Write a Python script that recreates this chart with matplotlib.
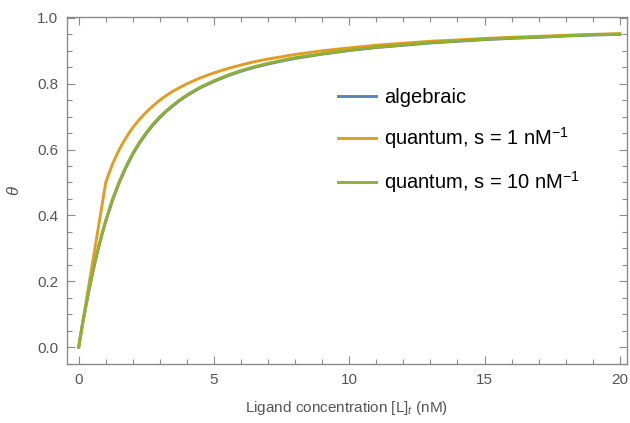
import numpy as np
import matplotlib
matplotlib.use("Agg")
import matplotlib.pyplot as plt
from matplotlib.ticker import MultipleLocator, FormatStrFormatter

plt.rcParams['font.family'] = ['Liberation Sans', 'DejaVu Sans']
plt.rcParams['mathtext.fontset'] = 'custom'
plt.rcParams['mathtext.rm'] = 'Liberation Sans'
plt.rcParams['mathtext.it'] = 'Liberation Sans:italic'

# ligand concentration (nM) and fraction bound
L_alg = [0, 0.125, 0.25, 0.375, 0.5, 0.625, 0.75, 0.875, 1, 1.25, 1.5, 1.75, 2, 2.25, 2.5,
         2.75, 3, 3.25, 3.5, 3.75, 4, 4.5, 5, 5.5, 6, 6.5, 7, 7.5, 8, 9, 10, 11, 12, 13, 14,
         15, 16, 17, 18, 19, 20]
theta_alg = [0, 0.061, 0.117, 0.170, 0.219, 0.265, 0.307, 0.346, 0.382, 0.446, 0.500, 0.546,
             0.586, 0.620, 0.649, 0.675, 0.697, 0.717, 0.734, 0.750, 0.764, 0.788, 0.807,
             0.824, 0.838, 0.850, 0.860, 0.869, 0.877, 0.890, 0.901, 0.910, 0.917, 0.924,
             0.929, 0.934, 0.938, 0.941, 0.945, 0.948, 0.950]
theta_s10 = [0, 0.063, 0.120, 0.173, 0.222, 0.268, 0.310, 0.349, 0.385, 0.449, 0.503, 0.549,
             0.589, 0.623, 0.652, 0.678, 0.700, 0.719, 0.736, 0.752, 0.766, 0.790, 0.809,
             0.826, 0.840, 0.852, 0.862, 0.871, 0.879, 0.891, 0.902, 0.911, 0.918, 0.925,
             0.930, 0.935, 0.939, 0.942, 0.946, 0.949, 0.951]

L_s1 = [0, 1, 1.125, 1.25, 1.375, 1.5, 1.625, 1.75, 1.875, 2, 2.25, 2.5, 2.75, 3, 3.25, 3.5,
        3.75, 4, 4.5, 5, 5.5, 6, 6.5, 7, 7.5, 8, 9, 10, 11, 12, 13, 14, 15, 16, 17, 18, 19, 20]
theta_s1 = [0, 0.500, 0.529, 0.556, 0.579, 0.600, 0.619, 0.636, 0.652, 0.667, 0.692, 0.714,
            0.733, 0.750, 0.765, 0.778, 0.789, 0.800, 0.818, 0.833, 0.846, 0.857, 0.867,
            0.875, 0.882, 0.889, 0.900, 0.909, 0.917, 0.923, 0.929, 0.933, 0.9375, 0.941,
            0.944, 0.947, 0.950, 0.952]

labels = ['algebraic', 'quantum, s = 1 nM$^{-1}$', 'quantum, s = 10 nM$^{-1}$']
colors = ['#5E81B5', '#E19C24', '#8FB032']

fig = plt.figure(figsize=(6.3, 4.23), dpi=100)
ax = fig.add_axes([0.106, 0.139, 0.889, 0.821])

ax.plot(L_alg, theta_alg, color=colors[0], lw=2.1, label=labels[0])
ax.plot(L_s1, theta_s1, color=colors[1], lw=2.1, label=labels[1])
ax.plot(L_alg, theta_s10, color=colors[2], lw=2.1, label=labels[2])

ax.set_xlim(-0.44, 20.26)
ax.set_ylim(-0.052, 1.003)

ax.xaxis.set_major_locator(MultipleLocator(5))
ax.xaxis.set_minor_locator(MultipleLocator(1))
ax.yaxis.set_major_locator(MultipleLocator(0.2))
ax.yaxis.set_minor_locator(MultipleLocator(0.05))
ax.yaxis.set_major_formatter(FormatStrFormatter('%.1f'))

fc = '#8a8a8a'
for s in ax.spines.values():
    s.set_color(fc)
    s.set_linewidth(1.0)
ax.tick_params(which='both', direction='in', top=True, right=True, colors=fc,
               labelcolor='#555555', labelsize=11, width=0.8)
ax.tick_params(which='major', length=6, pad=6)
ax.tick_params(which='minor', length=3.5)

ax.set_xlabel('Ligand concentration [L]$_t$ (nM)', color='#555555', fontsize=11, labelpad=9)
ax.set_ylabel(r'$\theta$', color='#555555', fontsize=12, labelpad=11)

leg = ax.legend(loc='upper left', bbox_to_anchor=(0.452, 0.847), frameon=False,
                fontsize=14.5, handlelength=1.9, handletextpad=0.4, labelspacing=0.9)

fig.savefig('out.png', dpi=100)
